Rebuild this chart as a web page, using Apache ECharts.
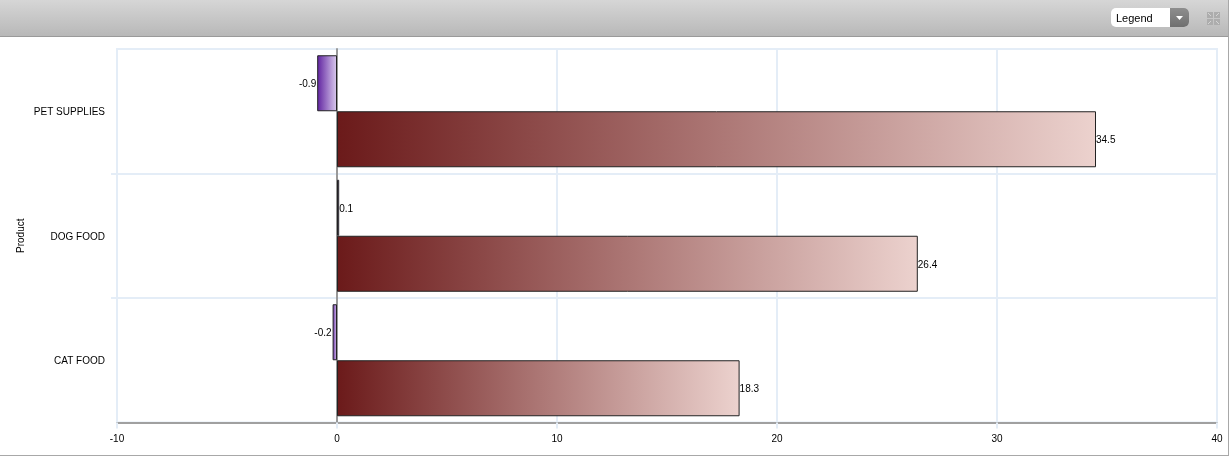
<!DOCTYPE html>
<html><head><meta charset="utf-8">
<style>html,body{margin:0;padding:0;background:#fff}#c{width:1231px;height:456px}</style>
<script src="https://cdn.jsdelivr.net/npm/echarts@6/dist/echarts.min.js"></script>
</head><body><div id="c"></div>
<script>
const categories = ['CAT FOOD', 'DOG FOOD', 'PET SUPPLIES'];
const maroonValues = [18.3, 26.4, 34.5];
const purpleValues = [-0.2, 0.1, -0.9];
const axisName = 'Product';
const legendText = 'Legend';

const FONT = '"Liberation Sans", Arial, sans-serif';
const PALE = '#e4edf7';
const GRID = {left:117, right:14, top:49, bottom:33.5};
const grad = (a, b) => ({type:'linear', x:0, y:0, x2:1, y2:0, colorStops:[{offset:0,color:a},{offset:1,color:b}]});
const vgrad = (a, b) => ({type:'linear', x:0, y:0, x2:0, y2:1, colorStops:[{offset:0,color:a},{offset:1,color:b}]});
const label = {show:true, color:'#000', fontFamily:FONT, fontSize:10, distance:0};
const withLabel = v => ({value:v, label:{position: v<0 ? 'left' : 'right', offset:[v<0 ? -1 : 0, 1]}});

const chart = echarts.init(document.getElementById('c'), null, {renderer:'canvas'});
const plotHeight = 456 - GRID.top - GRID.bottom;
const bandStubs = [1,2].map(k => ({type:'rect', silent:true,
  shape:{x:GRID.left-6, y:Math.round(GRID.top + plotHeight*k/categories.length)-1, width:5, height:2}, style:{fill:PALE}}));
const iconColor = '#adadad';
const iconPiece = (x,y,dx,dy) => [
  {type:'rect', silent:true, shape:{x,y,width:6,height:6}, style:{fill:iconColor}},
  {type:'line', silent:true, shape:{x1:x+(dx>0?1:5),y1:y+(dy>0?1:5),x2:x+(dx>0?4:2),y2:y+(dy>0?4:2)}, style:{stroke:'#d4d4d4',lineWidth:1}}
];
chart.setOption({
  animation:false,
  backgroundColor:'#fff',
  grid:{...GRID, show:true, borderColor:PALE, borderWidth:2, backgroundColor:'#fff'},
  xAxis:{type:'value', min:-10, max:40, interval:10,
    axisLine:{show:true, onZero:false, lineStyle:{color:'#a0a0a0', width:2}},
    axisTick:{show:true, length:6, lineStyle:{color:PALE, width:2}},
    axisLabel:{color:'#000', fontFamily:FONT, fontSize:10, margin:12, showMinLabel:true, showMaxLabel:true},
    splitLine:{show:true, lineStyle:{color:PALE, width:2}}},
  yAxis:[{type:'category', data:categories, name:axisName, nameLocation:'middle', nameGap:91, nameRotate:90, nameMoveOverlap:false,
      nameTextStyle:{color:'#000', fontFamily:FONT, fontSize:10},
      axisLine:{show:false, onZero:false},
      axisTick:{show:false},
      axisLabel:{color:'#000', fontFamily:FONT, fontSize:10, margin:12, verticalAlign:'top', lineHeight:2},
      splitLine:{show:true, lineStyle:{color:PALE, width:2}}},
    {type:'category', data:categories, position:'left',
      axisLine:{show:true, onZero:true, lineStyle:{color:'#999', width:2}},
      axisTick:{show:false}, axisLabel:{show:false}, splitLine:{show:false}}],
  series:[
    {name:'Purple', type:'bar', data:purpleValues.map(withLabel), barWidth:56, barGap:0,
      itemStyle:{color:grad('#5f219f','#dccdef'), borderColor:'#222', borderWidth:1},
      label:label},
    {name:'Maroon', type:'bar', data:maroonValues.map(withLabel), barWidth:56, barGap:0,
      itemStyle:{color:grad('#6b1a1a','#ecd2ce'), borderColor:'#222', borderWidth:1},
      label:label}
  ],
  graphic:[
    ...bandStubs,
    {type:'rect', silent:true, z:-1, shape:{x:0,y:0,width:1228,height:36}, style:{fill:vgrad('#d6d6d6','#b8b8b8')}},
    {type:'rect', silent:true, shape:{x:0,y:36,width:1228,height:1}, style:{fill:'#9a9a9a'}},
    {type:'rect', silent:true, shape:{x:1228,y:0,width:1,height:456}, style:{fill:'#a8a8a8'}},
    {type:'rect', silent:true, shape:{x:0,y:455,width:1229,height:1}, style:{fill:'#a8a8a8'}},
    {type:'rect', silent:true, shape:{x:1111,y:8,width:78,height:19,r:5}, style:{fill:'#fff'}},
    {type:'rect', silent:true, shape:{x:1170,y:8,width:19,height:19,r:[0,5,5,0]}, style:{fill:vgrad('#8e8e8e','#6f6f6f')}},
    {type:'polygon', silent:true, shape:{points:[[1176,16],[1183,16],[1179.5,20]]}, style:{fill:'#fff'}},
    {type:'text', silent:true, style:{x:1116,y:19,text:legendText,fill:'#000',font:'11px '+FONT,textVerticalAlign:'middle'}},
    ...iconPiece(1207,12,1,1), ...iconPiece(1214,12,-1,1), ...iconPiece(1207,19,1,-1), ...iconPiece(1214,19,-1,-1)
  ]
});
</script></body></html>
